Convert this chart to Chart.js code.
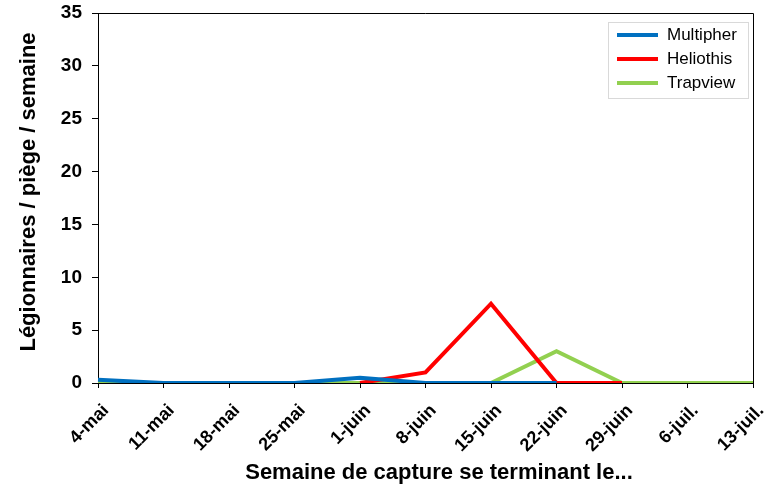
<!DOCTYPE html>
<html>
<head>
<meta charset="utf-8">
<script src="https://cdn.jsdelivr.net/npm/chart.js@4"></script>
<style>
    html, body { margin: 0; padding: 0; background: #fff; }
    #wrap { width: 775px; height: 496px; position: relative; }
</style>
</head>
<body>
<div id="wrap"><canvas id="chart"></canvas></div>
<script>
const weeks = ['4-mai', '11-mai', '18-mai', '25-mai', '1-juin', '8-juin', '15-juin', '22-juin', '29-juin', '6-juil.', '13-juil.'];
const multipher = [0.3, 0, 0, 0, 0.5, 0, 0, 0, null, null, null];
const heliothis = [null, null, null, null, 0, 1, 7.5, 0, 0, null, null];
const trapview = [0, 0, 0, 0, 0, 0, 0, 3, 0, 0, 0];
const yTicks = [0, 5, 10, 15, 20, 25, 30, 35];
const xTitle = 'Semaine de capture se terminant le...';
const yTitle = 'Légionnaires / piège / semaine';

const fontFamily = "'Liberation Sans', Arial, sans-serif";

// cadre du graphique, titres des axes et légende dessinés à la main
const frameAndLegend = {
    id: 'frameAndLegend',
    afterDatasetsDraw(chart) {
        const { ctx, chartArea } = chart;
        ctx.save();
        ctx.strokeStyle = '#000';
        ctx.lineWidth = 1;
        ctx.beginPath();
        ctx.moveTo(chartArea.left, Math.round(chartArea.top) + 0.5);
        ctx.lineTo(Math.round(chartArea.right) + 0.5, Math.round(chartArea.top) + 0.5);
        ctx.lineTo(Math.round(chartArea.right) + 0.5, chartArea.bottom);
        ctx.stroke();

        // titres des axes
        ctx.fillStyle = '#000';
        ctx.font = 'bold 22px ' + fontFamily;
        ctx.textAlign = 'center';
        ctx.textBaseline = 'middle';
        ctx.fillText(xTitle, 439, 473);
        ctx.save();
        ctx.translate(29, 192);
        ctx.rotate(-Math.PI / 2);
        ctx.fillText(yTitle, 0, 0);
        ctx.restore();

        // légende
        const x = 608, y = 22, w = 140, h = 76;
        ctx.strokeStyle = '#d9d9d9';
        ctx.lineWidth = 1;
        ctx.strokeRect(x + 0.5, y + 0.5, w, h);
        ctx.font = '17px ' + fontFamily;
        ctx.textAlign = 'left';
        chart.data.datasets.forEach((ds, i) => {
            const ly = 35 + i * 24;
            ctx.strokeStyle = ds.borderColor;
            ctx.lineWidth = 4;
            ctx.beginPath();
            ctx.moveTo(617, ly);
            ctx.lineTo(658, ly);
            ctx.stroke();
            ctx.fillText(ds.label, 667, ly);
        });
        ctx.restore();
    }
};

const ctx = document.getElementById('chart').getContext('2d');

new Chart(ctx, {
    type: 'line',
    data: {
        labels: weeks,
        datasets: [
            { label: 'Multipher', data: multipher, borderColor: '#0070C0', backgroundColor: '#0070C0' },
            { label: 'Heliothis', data: heliothis, borderColor: '#FF0000', backgroundColor: '#FF0000' },
            { label: 'Trapview', data: trapview, borderColor: '#92D050', backgroundColor: '#92D050' }
        ]
    },
    options: {
        responsive: true,
        maintainAspectRatio: false,
        animation: false,
        layout: { padding: { top: 13, right: 22, left: 0, bottom: 0 } },
        elements: {
            line: { borderWidth: 4, tension: 0, borderCapStyle: 'butt', borderJoinStyle: 'miter' },
            point: { radius: 0, hoverRadius: 0 }
        },
        scales: {
            x: {
                offset: false,
                afterFit: (scale) => {
                    scale.height = 113;
                    scale.paddingLeft = 0;
                    scale.paddingRight = 0;
                },
                grid: { drawOnChartArea: false, drawTicks: true, tickLength: 5, color: '#000' },
                border: { display: true, color: '#000', width: 1 },
                ticks: {
                    autoSkip: false,
                    maxRotation: 45,
                    minRotation: 45,
                    padding: 12,
                    labelOffset: 8,
                    color: '#000',
                    font: { family: fontFamily, size: 18, weight: 'bold' }
                }
            },
            y: {
                min: 0,
                max: 35,
                afterFit: (scale) => {
                    scale.width = 98;
                    scale.paddingTop = 0;
                    scale.paddingBottom = 0;
                },
                afterBuildTicks: (scale) => { scale.ticks = yTicks.map(v => ({ value: v })); },
                grid: { drawOnChartArea: false, drawTicks: true, tickLength: 6, color: '#000' },
                border: { display: true, color: '#000', width: 1 },
                ticks: {
                    padding: 10,
                    color: '#000',
                    font: { family: fontFamily, size: 19, weight: 'bold' }
                }
            }
        },
        plugins: {
            legend: { display: false },
            tooltip: { enabled: false }
        }
    },
    plugins: [frameAndLegend]
});
</script>
</body>
</html>
